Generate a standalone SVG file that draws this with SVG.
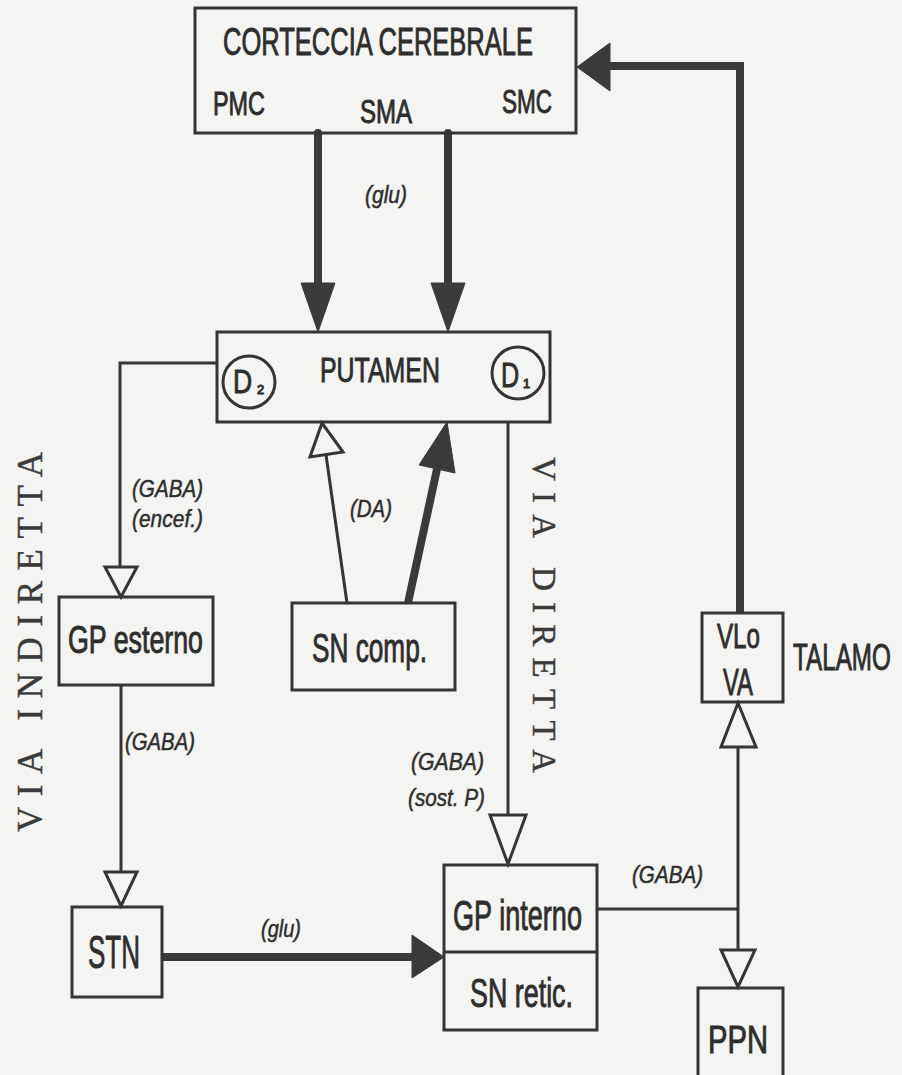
<svg xmlns="http://www.w3.org/2000/svg" width="902" height="1075" viewBox="0 0 902 1075">
<style>
.bg{fill:#f4f4f2}
.box{fill:none;stroke:#353535;stroke-width:3}
.lbl{font-family:"Liberation Sans",Arial,sans-serif;fill:#2e2e2e;stroke:#2e2e2e;stroke-width:0.9}
.nt{font-family:"Liberation Sans",Arial,sans-serif;fill:#2e2e2e;stroke:#2e2e2e;stroke-width:0.5;font-style:italic;font-size:24px}
.via{font-family:"Liberation Serif","Times New Roman",serif;fill:#3a3a3a;stroke:#3a3a3a;stroke-width:0.4}
.thin{fill:none;stroke:#353535;stroke-width:3}
.thick{fill:none;stroke:#3a3a3a;stroke-width:8}
.open{fill:#f4f4f2;stroke:#353535;stroke-width:3;stroke-linejoin:miter}
.solid{fill:#3a3a3a;stroke:#3a3a3a;stroke-width:1}
</style>
<rect class="bg" x="0" y="0" width="902" height="1075"/>

<g id="connectors">
  <!-- cortex to putamen -->
  <path class="thick" d="M318,133 V287" stroke-linecap="round"/>
  <polygon class="solid" points="301,283 335,283 318,332"/>
  <path class="thick" d="M448,133 V287" stroke-linecap="round"/>
  <polygon class="solid" points="431,283 465,283 448,332"/>
  <!-- thalamus to cortex -->
  <path class="thick" d="M740,613 V66 H606" stroke-width="9"/>
  <polygon class="solid" points="610,43 610,91 577,67"/>
  <!-- D2 to GP esterno -->
  <path class="thin" d="M217,363 H120 V567"/>
  <polygon class="open" points="105,567 137,567 121,597"/>
  <!-- GP esterno to STN -->
  <path class="thin" d="M121,685 V872"/>
  <polygon class="open" points="105,872 137,872 121,906"/>
  <!-- STN to GP interno -->
  <path class="thick" d="M162,957 H414" stroke-width="10"/>
  <polygon class="solid" points="412,935 412,978 444,957"/>
  <!-- D1 to GP interno -->
  <path class="thin" d="M508,422 V815"/>
  <polygon class="open" points="490,815 526,815 508,864"/>
  <!-- SN comp to putamen (open) -->
  <path class="thin" d="M347,603 L326,455"/>
  <polygon class="open" points="343,452 310,457 322,423"/>
  <!-- SN comp to putamen (solid) -->
  <path class="thick" d="M408,603 L437,469"/>
  <polygon class="solid" points="455,473 419,465 447,422"/>
  <!-- GP interno to thalamus / PPN -->
  <path class="thin" d="M597,909 H738"/>
  <path class="thin" d="M738,747 V950"/>
  <polygon class="open" points="721,747 756,747 738,703"/>
  <polygon class="open" points="721,950 755,950 738,987"/>
  <!-- labels -->
  <text class="nt" x="365" y="203" textLength="42" lengthAdjust="spacingAndGlyphs" font-size="25">(glu)</text>
  <text class="nt" x="132" y="497" textLength="71" lengthAdjust="spacingAndGlyphs">(GABA)</text>
  <text class="nt" x="132" y="527" textLength="71" lengthAdjust="spacingAndGlyphs">(encef.)</text>
  <text class="nt" x="350" y="517" textLength="42" lengthAdjust="spacingAndGlyphs">(DA)</text>
  <text class="nt" x="125" y="750" textLength="70" lengthAdjust="spacingAndGlyphs">(GABA)</text>
  <text class="nt" x="411" y="770" textLength="73" lengthAdjust="spacingAndGlyphs">(GABA)</text>
  <text class="nt" x="408" y="806" textLength="77" lengthAdjust="spacingAndGlyphs">(sost. P)</text>
  <text class="nt" x="632" y="883" textLength="71" lengthAdjust="spacingAndGlyphs" font-size="26">(GABA)</text>
  <text class="nt" x="261" y="937" textLength="40" lengthAdjust="spacingAndGlyphs" font-size="26">(glu)</text>
</g>

<g id="cortex">
  <rect class="box" x="195" y="8" width="381" height="125"/>
  <text class="lbl" x="223" y="55" font-size="38" textLength="310" lengthAdjust="spacingAndGlyphs">CORTECCIA CEREBRALE</text>
  <text class="lbl" x="213" y="115" font-size="33" textLength="52" lengthAdjust="spacingAndGlyphs">PMC</text>
  <text class="lbl" x="360" y="123" font-size="33" textLength="52" lengthAdjust="spacingAndGlyphs">SMA</text>
  <text class="lbl" x="502" y="113" font-size="34" textLength="50" lengthAdjust="spacingAndGlyphs">SMC</text>
</g>

<g id="putamen">
  <rect class="box" x="217" y="332" width="333" height="90"/>
  <circle class="box" cx="249" cy="382" r="26"/>
  <text class="lbl" x="0" y="0" font-size="34" transform="translate(233 393) scale(0.78 1)">D</text>
  <text class="lbl" x="257" y="394" font-size="13" stroke-width="0.4">2</text>
  <circle class="box" cx="518" cy="373" r="26"/>
  <text class="lbl" x="0" y="0" font-size="36" transform="translate(501 387) scale(0.7 1)">D</text>
  <text class="lbl" x="523" y="388" font-size="13" stroke-width="0.4">1</text>
  <text class="lbl" x="320" y="382" font-size="35" textLength="120" lengthAdjust="spacingAndGlyphs">PUTAMEN</text>
</g>

<g id="gp-esterno">
  <rect class="box" x="59" y="597" width="154" height="88"/>
  <text class="lbl" x="68" y="653" font-size="38" textLength="135" lengthAdjust="spacingAndGlyphs">GP esterno</text>
</g>

<g id="sn-comp">
  <rect class="box" x="292" y="603" width="163" height="87"/>
  <text class="lbl" x="312" y="662" font-size="40" textLength="115" lengthAdjust="spacingAndGlyphs">SN comp.</text>
</g>

<g id="talamo">
  <rect class="box" x="702" y="613" width="81" height="89"/>
  <text class="lbl" x="717" y="648" font-size="35" textLength="43" lengthAdjust="spacingAndGlyphs">VLo</text>
  <text class="lbl" x="723" y="695" font-size="37" textLength="30" lengthAdjust="spacingAndGlyphs">VA</text>
  <text class="lbl" x="0" y="0" font-size="37" transform="translate(793 670) scale(0.655 1)">TALAMO</text>
</g>

<g id="stn">
  <rect class="box" x="72" y="907" width="90" height="90"/>
  <text class="lbl" x="88" y="968" font-size="46" textLength="52" lengthAdjust="spacingAndGlyphs">STN</text>
</g>

<g id="gp-interno">
  <rect class="box" x="444" y="865" width="153" height="165"/>
  <line class="box" x1="444" y1="952" x2="597" y2="952" stroke-width="2"/>
  <text class="lbl" x="453" y="930" font-size="42" textLength="129" lengthAdjust="spacingAndGlyphs">GP interno</text>
  <text class="lbl" x="470" y="1007" font-size="40" textLength="103" lengthAdjust="spacingAndGlyphs">SN retic.</text>
</g>

<g id="ppn">
  <rect class="box" x="698" y="988" width="85" height="100"/>
  <text class="lbl" x="708" y="1053" font-size="38" textLength="60" lengthAdjust="spacingAndGlyphs">PPN</text>
</g>

<g id="pathway-labels">
  <text class="via" x="42" y="642" font-size="35" text-anchor="middle" textLength="380" lengthAdjust="spacing" transform="rotate(-90 42 642)">VIA INDIRETTA</text>
  <text class="via" x="533" y="615" font-size="33" text-anchor="middle" textLength="316" lengthAdjust="spacing" transform="rotate(90 533 615)">VIA DIRETTA</text>
</g>
</svg>
